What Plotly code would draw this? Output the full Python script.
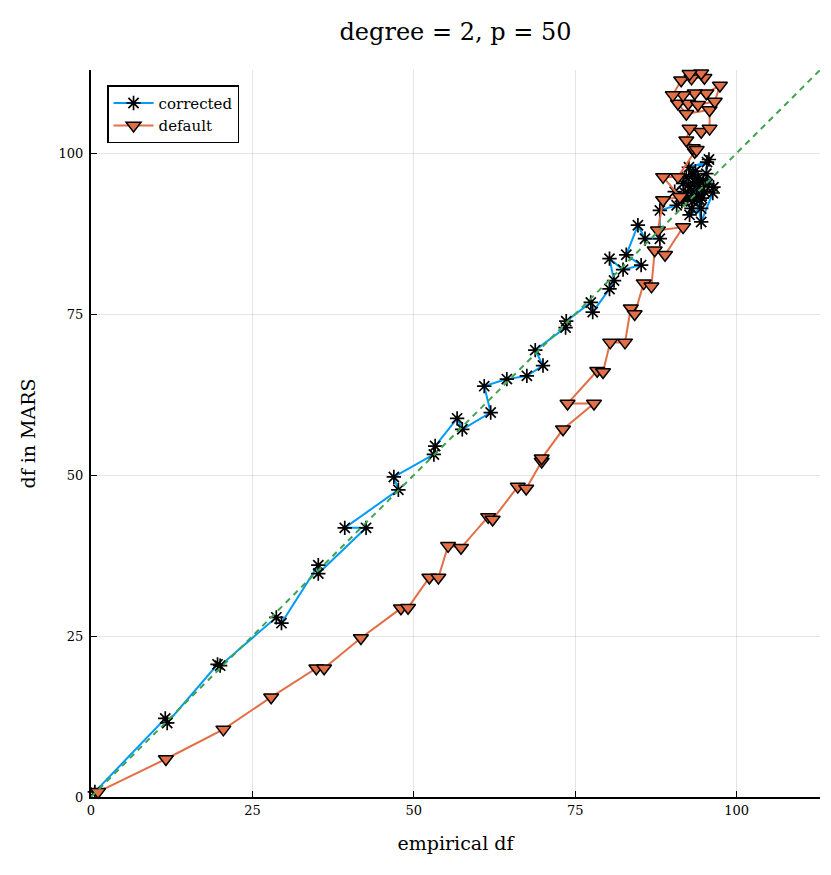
import plotly.graph_objects as go

# corrected df (stars) in path order
corr_x = [0.6, 11.5, 11.8, 19.6, 20.0, 28.7, 29.5, 35.2, 35.2, 42.6, 39.3,
          47.6, 46.9, 53.1, 53.3, 56.7, 57.5, 61.9, 60.9, 64.4, 67.5, 70.0,
          68.8, 73.5, 73.6, 77.4, 77.7, 80.3, 81.0, 80.3, 82.4, 85.2, 82.9,
          84.7, 85.8, 88.1, 88.1,
          90.7, 92.4, 94.5, 92.7, 93.0, 94.3, 90.4, 91.7, 93.2, 92.6, 95.4,
          95.3, 96.4, 96.3, 94.5, 93.5, 94.2, 93.0, 94.8, 92.5, 93.8, 95.0,
          92.0, 94.0, 93.2, 95.5, 91.5, 94.6, 93.6, 92.2, 95.7]
corr_y = [0.8, 12.2, 11.5, 20.6, 20.4, 27.9, 27.0, 36.0, 34.7, 41.8, 41.8,
          47.7, 49.7, 53.2, 54.5, 58.8, 57.1, 59.7, 63.8, 64.9, 65.4, 67.0,
          69.4, 72.9, 73.9, 76.8, 75.3, 78.9, 80.2, 83.6, 81.9, 82.6, 84.2,
          88.8, 86.7, 86.7, 91.1,
          91.9, 93.0, 91.4, 90.4, 91.4, 92.7, 94.0, 95.3, 96.6, 97.8, 98.6,
          96.8, 94.7, 93.8, 89.3, 95.5, 94.8, 94.2, 95.8, 95.0, 93.5, 94.0,
          93.8, 96.0, 92.5, 95.2, 92.5, 93.0, 97.2, 96.3, 99.0]

# default df (triangles)
def_x = [1.1, 11.6, 20.5, 27.9, 34.9, 36.1, 41.8, 48.0, 49.1, 52.4, 53.8,
         55.3, 57.3, 61.5, 62.2, 66.1, 67.4, 69.8, 69.8, 73.1, 77.9, 73.8,
         78.4, 79.3, 80.4, 82.7, 83.6, 84.2, 85.6, 86.8, 87.3, 88.9, 91.7,
         87.8, 88.6, 91.2, 88.6, 90.9, 93.5, 93.2, 93.8, 92.2, 92.7, 94.5,
         95.8, 95.8, 92.2, 90.9, 92.5, 94.0, 96.6, 97.4, 95.3, 93.5, 91.7,
         90.1, 91.4, 93.0, 95.0, 94.5, 92.7]
def_y = [0.8, 5.9, 10.5, 15.5, 20.0, 20.0, 24.7, 29.3, 29.4, 34.1, 34.1,
         39.0, 38.7, 43.5, 43.1, 48.2, 47.9, 52.1, 52.6, 57.1, 61.1, 61.1,
         66.2, 66.0, 70.6, 70.6, 75.9, 75.0, 79.8, 79.3, 84.9, 84.2, 88.5,
         88.0, 92.7, 93.2, 96.3, 96.3, 100.2, 100.8, 100.5, 102.0, 103.8,
         103.3, 103.8, 106.7, 106.1, 107.7, 107.7, 107.5, 108.0, 110.5,
         109.3, 109.3, 109.0, 109.0, 111.3, 111.6, 111.7, 112.4, 112.3]

diag = [0, 113]

serif = "DejaVu Serif"

fig = go.Figure()
fig.add_trace(go.Scatter(
    x=corr_x, y=corr_y, mode="lines+markers", name="corrected",
    line=dict(color="#009af9", width=2),
    marker=dict(symbol="asterisk-open", size=12, color="black",
                line=dict(color="black", width=1.7)),
    cliponaxis=False))
fig.add_trace(go.Scatter(
    x=def_x, y=def_y, mode="lines+markers", name="default",
    line=dict(color="#e26f46", width=2),
    marker=dict(symbol="triangle-down", size=13, color="#e26f46",
                line=dict(color="black", width=1.5)),
    cliponaxis=False))
fig.add_trace(go.Scatter(
    x=diag, y=diag, mode="lines", showlegend=False,
    line=dict(color="#3da44d", width=2, dash="6px,5px")))

axis_style = dict(
    range=[0, 112.9], tickvals=[0, 25, 50, 75, 100],
    showgrid=True, gridcolor="rgba(0,0,0,0.1)", gridwidth=1,
    zeroline=False, showline=True, linecolor="black", linewidth=2,
    ticks="inside", ticklen=6, tickcolor="black", tickwidth=1,
    tickfont=dict(family=serif, size=13, color="black"),
)

# the page body adds 8px on the left and top
fig.update_layout(
    width=823, height=867,
    margin=dict(l=83, r=11, t=62, b=78),
    paper_bgcolor="white", plot_bgcolor="white",
    title=dict(text="degree = 2, p = 50", x=0.5, xanchor="center",
               xref="paper", y=0.973, yanchor="middle",
               font=dict(family=serif, size=24, color="black")),
    xaxis=dict(axis_style, title=dict(text="empirical df", standoff=20,
               font=dict(family=serif, size=19, color="black"))),
    yaxis=dict(axis_style, ticklabelstandoff=3,
               title=dict(text="df in MARS", standoff=18,
                          font=dict(family=serif, size=19, color="black"))),
    legend=dict(x=0.022, y=0.979, xanchor="left", yanchor="top",
                bgcolor="white", bordercolor="black", borderwidth=1.5,
                font=dict(family=serif, size=15, color="black"),
                itemwidth=40, tracegroupgap=0),
)

fig.write_html("out.html")
